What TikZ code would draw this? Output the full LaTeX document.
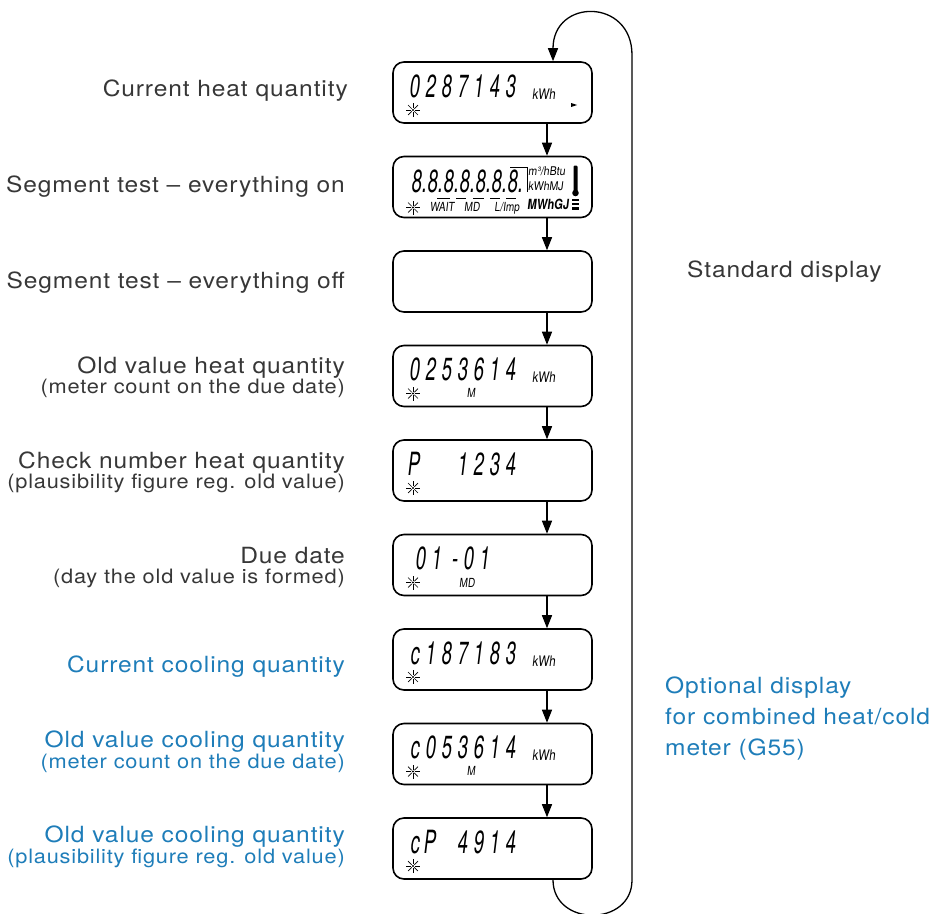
\documentclass[tikz,border=0pt]{standalone}
\usepackage{fontspec}
\setmainfont{TeX Gyre Heros}
\newfontfamily\lblfont{TeX Gyre Heros}[FakeStretch=1.1,LetterSpace=4]
\newfontfamily\lcdfont{TeX Gyre Heros}[FakeStretch=0.58,FakeSlant=0.12]
\newfontfamily\lcdunit{TeX Gyre Heros}[FakeStretch=0.8,FakeSlant=0.12]
\newfontfamily\lcdunitw{TeX Gyre Heros}[FakeStretch=0.88,FakeSlant=0.12]
\usetikzlibrary{arrows.meta}
\definecolor{txt}{RGB}{55,55,55}
\definecolor{cool}{RGB}{30,125,185}
\newcommand\segs[1]{\segloop#1\relax}
\def\segloop#1{\ifx#1\relax\else\ifx#1x\makebox[16pt]{}\else\makebox[16pt][r]{#1}\fi\expandafter\segloop\fi}
\newcommand\dotseg{\makebox[16pt][r]{8\rlap{.}}}
\tikzset{
  lcdbox/.style={draw, line width=1.6pt, rounded corners=11pt, minimum width=199pt, minimum height=61pt, inner sep=0pt},
  lbl/.style={font=\lblfont\fontsize{22.3}{24}\selectfont, text=txt, inner sep=0pt, anchor=base east},
  sublbl/.style={font=\lblfont\fontsize{19.8}{22}\selectfont, text=txt, inner sep=0pt, anchor=base east},
  rlbl/.style={font=\lblfont\fontsize{22.3}{24}\selectfont, text=txt, inner sep=0pt, anchor=base west},
  digits/.style={font=\lcdfont\fontsize{32}{32}\selectfont, inner sep=0pt, anchor=base west},
  unit/.style={font=\lcdunit\fontsize{14.5}{14.5}\selectfont, inner sep=0pt},
  tag/.style={font=\lcdunit\fontsize{12.5}{12.5}\selectfont, inner sep=0pt, anchor=base},
  arr/.style={line width=1.3pt, -{Triangle[length=13pt,width=10pt]}},
  sun/.pic={\foreach \a in {0,45,90,135}{\draw[line width=0.7pt] (\a:1.8) -- (\a:7) (\a+180:1.8) -- (\a+180:7);}\fill (0,0) circle (1.2);}
}
\begin{document}
\begin{tikzpicture}[x=1pt,y=-1pt]
\useasboundingbox (0,0) rectangle (937,913);
% boxes
\foreach \i/\t in {1/62,2/156.5,3/251,4/345.5,5/440,6/534.5,7/629,8/723.5,9/818}{
  \node[lcdbox] (b\i) at (492.5,\t+30.5) {};
}
\coordinate (ax) at (547,0);
\coordinate (lt) at (553,0);
\foreach \i [evaluate=\i as \j using int(\i+1)] in {1,...,8}{
  \draw[arr] (b\i.south -| ax) -- (b\j.north -| ax);
}
% loop
\draw[arr] (b9.south -| lt) .. controls (553,927) and (632,927) .. (632,880) -- (632,55) .. controls (632,-2) and (553,-2) .. (b1.north -| lt);

% box 1
\node[digits] (d1) at (403,97) {\segs{0287143}};
\node[unit, anchor=base west] (u1) at (532,99) {kWh};
\pic at (413,110) {sun};
\fill (571,103) -- (577,105) -- (571,107) -- cycle;
% box 2
\node[digits] (d2) at (405,192.5) {\dotseg\dotseg\dotseg\dotseg\dotseg\dotseg\dotseg};
\draw[line width=0.8pt] (510,167.5) -- (527,167.5) -- (527,192);
\node[unit, anchor=base west, font=\lcdunitw\fontsize{12}{12}\selectfont] (u2a) at (528,175.5) {m³/hBtu};
\node[unit, anchor=base west, font=\lcdunitw\fontsize{12}{12}\selectfont] (u2b) at (528,190.5) {kWhMJ};
\node[unit, anchor=base west, font=\lcdunit\bfseries\fontsize{14}{14}\selectfont] (u2c) at (527,209) {MWhGJ};
\fill[rounded corners=1.2pt] (573.5,165.5) rectangle (577.5,193);
\fill (575.5,193) circle (3.3);
\fill (572,198.5) rectangle (579,200.5);
\fill (572,202.5) rectangle (579,204.5);
\fill (572,206.5) rectangle (579,210);
\foreach \xa/\xb in {437/450,456/466,473/484,490/500,506/516}{\draw[line width=0.8pt] (\xa,198.5) -- (\xb,198.5);}
\pic at (413,207.5) {sun};
\node[tag] (w2) at (442,211.5) {WAIT};
\node[tag] (m2) at (472,211.5) {MD};
\node[tag] (l2) at (507,211.5) {L/Imp};
% box 4
\node[digits] (d4) at (403,380.5) {\segs{0253614}};
\node[unit, anchor=base west] (u4) at (532,382.5) {kWh};
\pic at (413,393.5) {sun};
\node[tag] (m4) at (471,397.5) {M};
% box 5
\node[digits] (d5) at (403,475) {\segs{Pxx1234}};
\pic at (413,488) {sun};
% box 6
\node[digits] (d6) at (409,569.5) {\segs{01-01}};
\pic at (413,582.5) {sun};
\node[tag] (m6) at (467,587) {MD};
% box 7
\node[digits] (d7) at (403,664) {\segs{c187183}};
\node[unit, anchor=base west] (u7) at (532,666) {kWh};
\pic at (413,677) {sun};
% box 8
\node[digits] (d8) at (403,758.5) {\segs{c053614}};
\node[unit, anchor=base west] (u8) at (532,760.5) {kWh};
\pic at (413,771.5) {sun};
\node[tag] (m8) at (471,775.5) {M};
% box 9
\node[digits] (d9) at (403,853) {\segs{cPx4914}};
\pic at (413,866) {sun};

% left labels
\node[lbl] (t1) at (348,96) {Current heat quantity};
\node[lbl] (t2) at (345,192) {Segment test – everything on};
\node[lbl] (t3) at (345,288) {Segment test – everything off};
\node[lbl] (t4) at (345,373) {Old value heat quantity};
\node[sublbl] (s4) at (345,393) {(meter count on the due date)};
\node[lbl] (t5) at (345,468) {Check number heat quantity};
\node[sublbl] (s5) at (345,488) {(plausibility figure reg. old value)};
\node[lbl] (t6) at (345,563) {Due date};
\node[sublbl] (s6) at (345,583) {(day the old value is formed)};
\node[lbl, text=cool] (t7) at (345,672) {Current cooling quantity};
\node[lbl, text=cool] (t8) at (345,747) {Old value cooling quantity};
\node[sublbl, text=cool] (s8) at (345,768) {(meter count on the due date)};
\node[lbl, text=cool] (t9) at (345,842) {Old value cooling quantity};
\node[sublbl, text=cool] (s9) at (345,863) {(plausibility figure reg. old value)};
% right labels
\node[rlbl] (r1) at (687,277) {Standard display};
\node[rlbl, text=cool] (r2) at (665,693) {Optional display};
\node[rlbl, text=cool] (r3) at (665,724) {for combined heat/cold};
\node[rlbl, text=cool] (r4) at (665,755) {meter (G55)};
\end{tikzpicture}
\end{document}
